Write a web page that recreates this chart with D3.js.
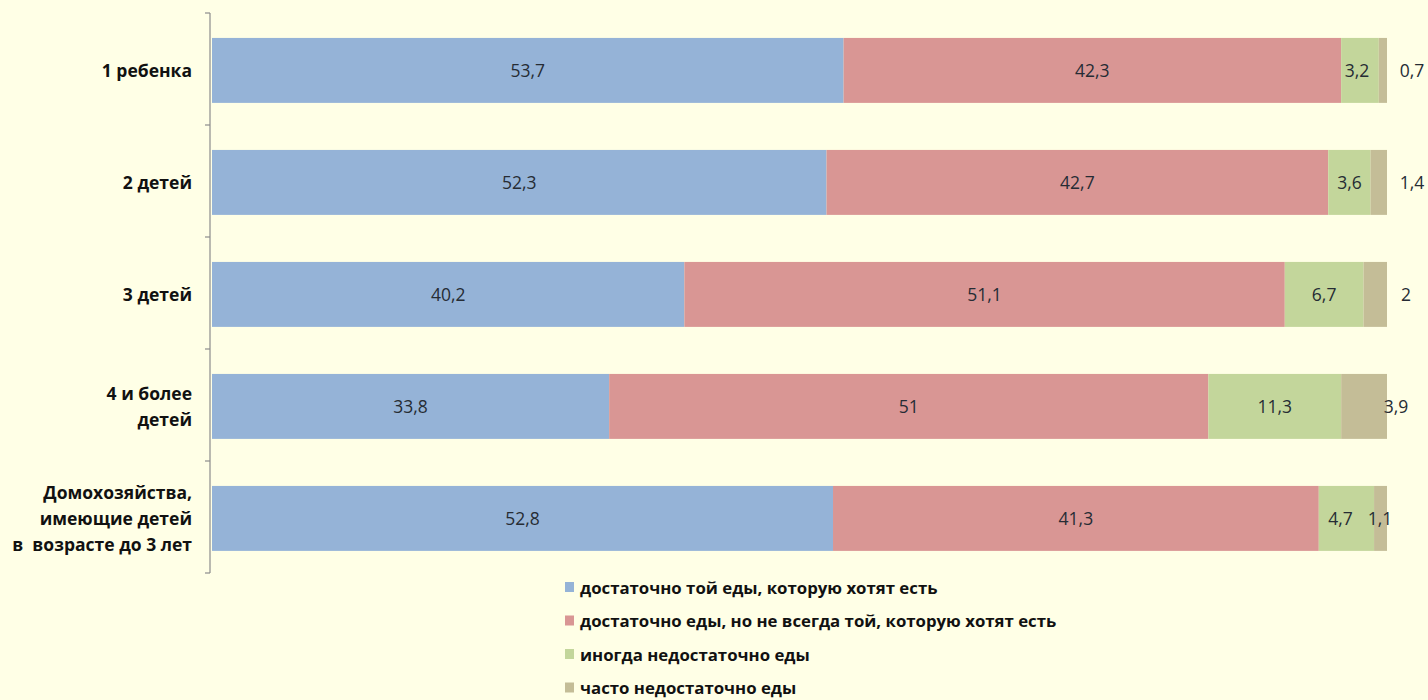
<!DOCTYPE html>
<html>
<head>
<meta charset="utf-8">
<script src="https://cdn.jsdelivr.net/npm/d3@7"></script>
<style>
  body { margin: 0; background: #FFFFE6; }
  svg { display: block; }
</style>
</head>
<body>
<div id="chart"></div>
<script>
(function () {

  // data
  var categories = ["1 ребенка", "2 детей", "3 детей", "4 и более\nдетей", "Домохозяйства,\nимеющие детей\nв  возрасте до 3 лет"];
  var seriesNames = [
    "достаточно той еды, которую хотят есть",
    "достаточно еды, но не всегда той, которую хотят есть",
    "иногда недостаточно еды",
    "часто недостаточно еды"
  ];
  var enough = [53.7, 52.3, 40.2, 33.8, 52.8];
  var notAlways = [42.3, 42.7, 51.1, 51, 41.3];
  var sometimes = [3.2, 3.6, 6.7, 11.3, 4.7];
  var often = [0.7, 1.4, 2, 3.9, 1.1];

  var colors = ["#95B3D7", "#D99694", "#C3D69B", "#C4BD97"];

  var w = 1428, h = 700;
  var margin = { top: 13, left: 210, right: 41, bottom: 127 };
  var font = "'Open Sans', Lato, sans-serif";

  var svg = d3.select("#chart").append("svg")
    .attr("width", w)
    .attr("height", h)

  svg.append("rect").attr("width", w).attr("height", h).attr("fill", "#FFFFE6")

  var rows = categories.map(function (c, i) {
    var vals = [enough[i], notAlways[i], sometimes[i], often[i]];
    var total = d3.sum(vals);
    var x0 = 0;
    return {
      cat: c,
      segs: vals.map(function (v, j) {
        var s = { s: j, v: v, x0: x0 / total * 100, x1: (x0 + v) / total * 100 };
        x0 += v;
        return s;
      })
    };
  });

  var x = d3.scaleLinear()
    .domain([0, 100])
    .range([margin.left + 2, w - margin.right]);

  var y = d3.scaleBand()
    .domain(categories)
    .range([margin.top, h - margin.bottom])
    .paddingInner(0.42)
    .paddingOuter(0.21)
    .align(0.53);

  // axis
  var axisG = svg.append("g")
    .attr("transform", "translate(" + margin.left + ",0)");
  axisG.append("line")
    .attr("y1", margin.top).attr("y2", h - margin.bottom)
    .attr("stroke", "#8c8c8c").attr("stroke-width", 1.2)
  var step = (h - margin.bottom - margin.top) / categories.length;
  d3.range(categories.length + 1).forEach(function (k) {
    axisG.append("line")
      .attr("x1", -5).attr("x2", 0)
      .attr("y1", margin.top + k * step).attr("y2", margin.top + k * step)
      .attr("stroke", "#8c8c8c").attr("stroke-width", 1.2)
  })

  var rowG = svg.selectAll(".row")
    .data(rows)
    .enter()
    .append("g")
    .attr("class", "row")

  rowG.selectAll("rect")
    .data(function (d) { return d.segs.map(function (s) { s.cat = d.cat; return s; }); })
    .enter()
    .append("rect")
    .attr("x", function (d) { return x(d.x0); })
    .attr("width", function (d) { return x(d.x1) - x(d.x0); })
    .attr("y", function (d) { return y(d.cat); })
    .attr("height", y.bandwidth())
    .attr("fill", function (d) { return colors[d.s]; })

  // nudges for the small last-series labels (moved by hand in the original)
  var lastShift = { 0: 25, 1: 25, 2: 19, 3: 9, 4: -7 };

  rowG.selectAll(".val")
    .data(function (d, i) { return d.segs.map(function (s) { s.row = i; return s; }); })
    .enter()
    .append("text")
    .attr("class", "val")
    .attr("x", function (d) {
      var c = (x(d.x0) + x(d.x1)) / 2;
      if (d.s == 3) return x(100) + lastShift[d.row];
      if (d.s == 2 && d.row == 4) return c - 6;
      if (d.s == 2 && d.row == 0) return c - 3;
      return c;
    })
    .attr("y", function (d) { return y(d.cat) + y.bandwidth() / 2; })
    .attr("dy", "0.35em")
    .attr("text-anchor", "middle")
    .style("font-family", font)
    .style("font-size", "17.5px")
    .style("fill", "#262C34")
    .text(function (d) { return String(d.v).replace(".", ","); })

  // category labels
  var catText = svg.selectAll(".cat")
    .data(categories)
    .enter()
    .append("text")
    .attr("class", "cat")
    .attr("text-anchor", "end")
    .style("font-family", font)
    .style("font-weight", "bold")
    .style("font-size", "17.5px")
    .style("fill", "#111")
    .attr("transform", function (d) {
      return "translate(192," + (y(d) + y.bandwidth() / 2) + ")";
    })

  catText.each(function (d) {
    var lines = d.split("\n");
    var lh = 26;
    var t = d3.select(this);
    lines.forEach(function (l, i) {
      t.append("tspan")
        .attr("x", 0)
        .attr("y", (i - (lines.length - 1) / 2) * lh)
        .attr("dy", "0.35em")
        .style("white-space", "pre")
        .text(l)
    })
  })

  // legend
  var legend = svg.selectAll(".legend")
    .data(seriesNames)
    .enter()
    .append("g")
    .attr("class", "legend")
    .attr("transform", function (d, i) { return "translate(565," + (588 + i * 33.5) + ")"; })

  legend.append("rect")
    .attr("x", 0).attr("y", -6)
    .attr("width", 9).attr("height", 10)
    .attr("fill", function (d, i) { return colors[i]; })

  legend.append("text")
    .attr("x", 15)
    .attr("dy", "0.35em")
    .style("font-family", font)
    .style("font-weight", "bold")
    .style("font-size", "16.8px")
    .style("fill", "#111")
    .text(function (d) { return d; })

})()
</script>
</body>
</html>
